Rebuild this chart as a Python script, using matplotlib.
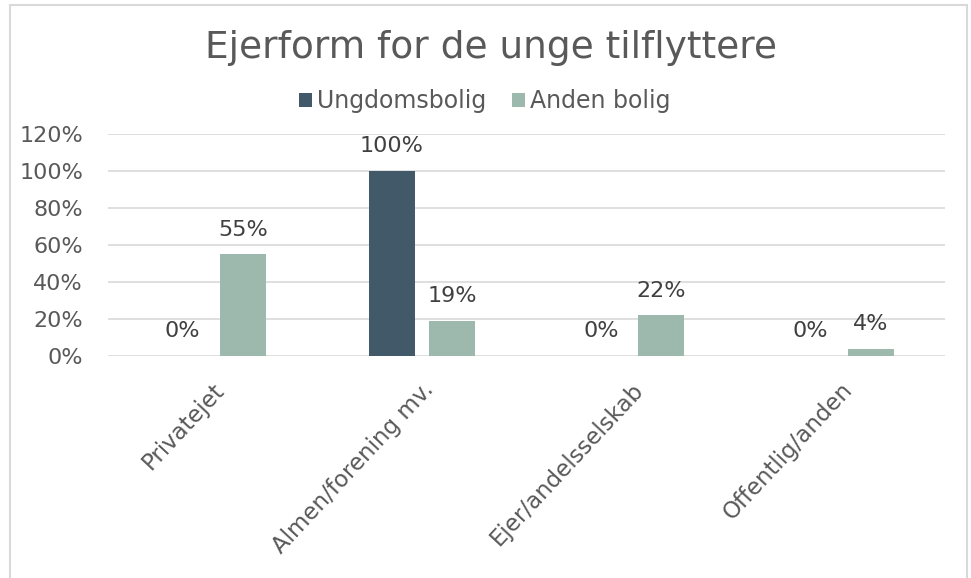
import numpy as np
import matplotlib
matplotlib.use("Agg")
import matplotlib.pyplot as plt
from matplotlib.patches import Rectangle

categories = ["Privatejet", "Almen/forening mv.", "Ejer/andelsselskab", "Offentlig/anden"]
ungdomsbolig = [0, 100, 0, 0]
anden_bolig = [55, 19, 22, 4]
series_names = ["Ungdomsbolig", "Anden bolig"]
yticks = [0, 20, 40, 60, 80, 100, 120]

dark = "#42596A"
light = "#9DB8AD"
txt = "#595959"

plt.rcParams["font.family"] = ["DejaVu Sans"]

W, H = 971, 578
fig = plt.figure(figsize=(W / 100, H / 100), dpi=100)
ax = fig.add_axes([108 / W, 1 - 356 / H, (945 - 108) / W, (356 - 134) / H])

# chart border
fig.patches.append(Rectangle((10 / W, -0.01), (967 - 10) / W, 1 - 5 / H + 0.01,
                             transform=fig.transFigure, fill=False,
                             edgecolor="#D9D9D9", linewidth=1.5))

x = np.arange(len(categories))
w = 0.22
off = 0.145
b1 = ax.bar(x - off, ungdomsbolig, w, color=dark, label=series_names[0], zorder=3)
b2 = ax.bar(x + off, anden_bolig, w, color=light, label=series_names[1], zorder=3)

for bars, vals in [(b1, ungdomsbolig), (b2, anden_bolig)]:
    for b, v in zip(bars, vals):
        ax.annotate(f"{v}%", (b.get_x() + b.get_width() / 2, v),
                    xytext=(0, 10.5), textcoords="offset points",
                    ha="center", va="bottom", fontsize=16, color="#404040")

ax.set_xlim(-0.5, len(categories) - 0.5)
ax.set_ylim(0, 120)
ax.set_yticks(yticks)
ax.set_yticklabels([f"{t}%" for t in yticks], fontsize=16, color=txt)
ax.grid(axis="y", color="#D9D9D9", linewidth=1.2, zorder=0)
ax.tick_params(axis="both", length=0)
ax.tick_params(axis="y", pad=18)
for s in ax.spines.values():
    s.set_visible(False)

ax.set_xticks(x)
ax.set_xticklabels(categories, fontsize=16.5, color=txt, rotation=47,
                   ha="right", rotation_mode="anchor")
ax.tick_params(axis="x", pad=16)

fig.text(491 / W, 1 - 48 / H, "Ejerform for de unge tilflyttere",
         ha="center", va="center", fontsize=27, color=txt)
fig.legend(loc="center", bbox_to_anchor=(485 / W, 1 - 101 / H), ncol=2,
           frameon=False, fontsize=17, handlelength=0.55, handleheight=0.55,
           handletextpad=0.2, columnspacing=1.1, labelcolor=txt)

fig.savefig("out.png", dpi=100)
